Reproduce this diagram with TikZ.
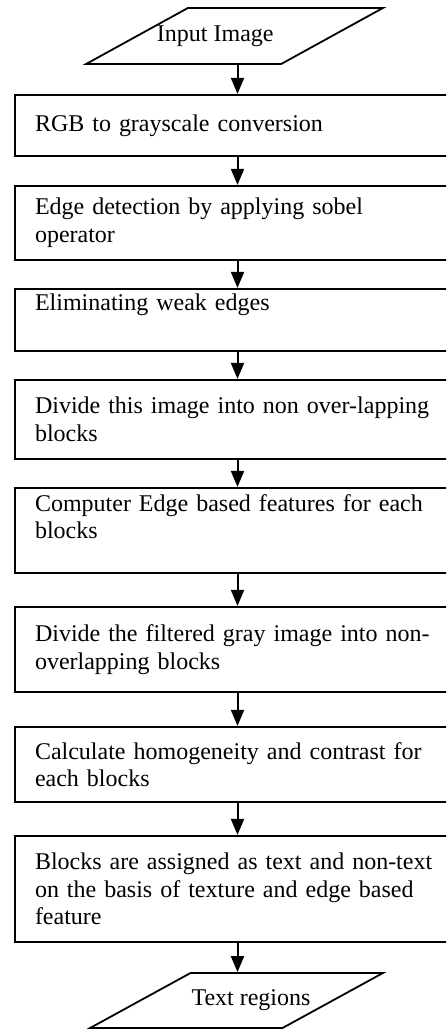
\documentclass[tikz,border=0pt]{standalone}
\usepackage{fontspec}
\setmainfont{Liberation Serif}
\usetikzlibrary{arrows.meta,shapes.geometric}

\begin{document}
\begin{tikzpicture}[
  x=1pt,y=1pt,
  font=\fontsize{12pt}{13.8pt}\selectfont,
  stage/.style={rectangle,draw=black,line width=1.1pt,minimum width=222.5pt,
    text width=202.5pt,inner xsep=10pt,inner ysep=0pt,align=left},
  io/.style={trapezium,trapezium left angle=42.5,trapezium right angle=137.5,
    trapezium stretches=true,draw=black,line width=0.9pt,inner sep=2pt},
  flow/.style={-{Triangle[length=8pt,width=6.5pt]},draw=black,line width=1pt}
]
\useasboundingbox (0,0) rectangle (223,-515);
\clip (0,0) rectangle (223,-515);

\node[io,minimum width=148.5pt,minimum height=28pt,
  label={[xshift=-9.6pt]center:Input Image}] (in) at (117.25,-18) {};

\node[stage,minimum height=30.5pt] (b1) at (118.75,-62.75) {RGB to grayscale conversion};
\node[stage,minimum height=37pt] (b2) at (118.75,-111.5) {Edge detection by applying sobel\\operator};
\node[stage,minimum height=31pt] (b3) at (118.75,-160) {Eliminating weak edges\\\strut};
\node[stage,minimum height=39.5pt] (b4) at (118.75,-209.75) {Divide this image into non over-lapping\\blocks};
\node[stage,minimum height=42.5pt] (b5) at (118.75,-265.25) {Computer Edge based features for each\\blocks\\\mbox{}};
\node[stage,minimum height=42.5pt] (b6) at (118.75,-324.75) {Divide the filtered gray image into non-\\overlapping blocks};
\node[stage,minimum height=37.5pt] (b7) at (118.75,-382.25) {Calculate homogeneity and contrast for\\each blocks};
\node[stage,minimum height=53pt] (b8) at (118.75,-444.5) {Blocks are assigned as text and non-text\\on the basis of texture and edge based\\feature};

\node[io,minimum width=146.5pt,minimum height=27.5pt,
  label={[xshift=7.25pt]center:Text regions}] (out) at (118.25,-500.25) {};

\draw[flow] (in.south -| b1) -- (b1);
\draw[flow] (b1) -- (b2);
\draw[flow] (b2) -- (b3);
\draw[flow] (b3) -- (b4);
\draw[flow] (b4) -- (b5);
\draw[flow] (b5) -- (b6);
\draw[flow] (b6) -- (b7);
\draw[flow] (b7) -- (b8);
\draw[flow] (b8) -- (out.north -| b8);
\end{tikzpicture}
\end{document}
